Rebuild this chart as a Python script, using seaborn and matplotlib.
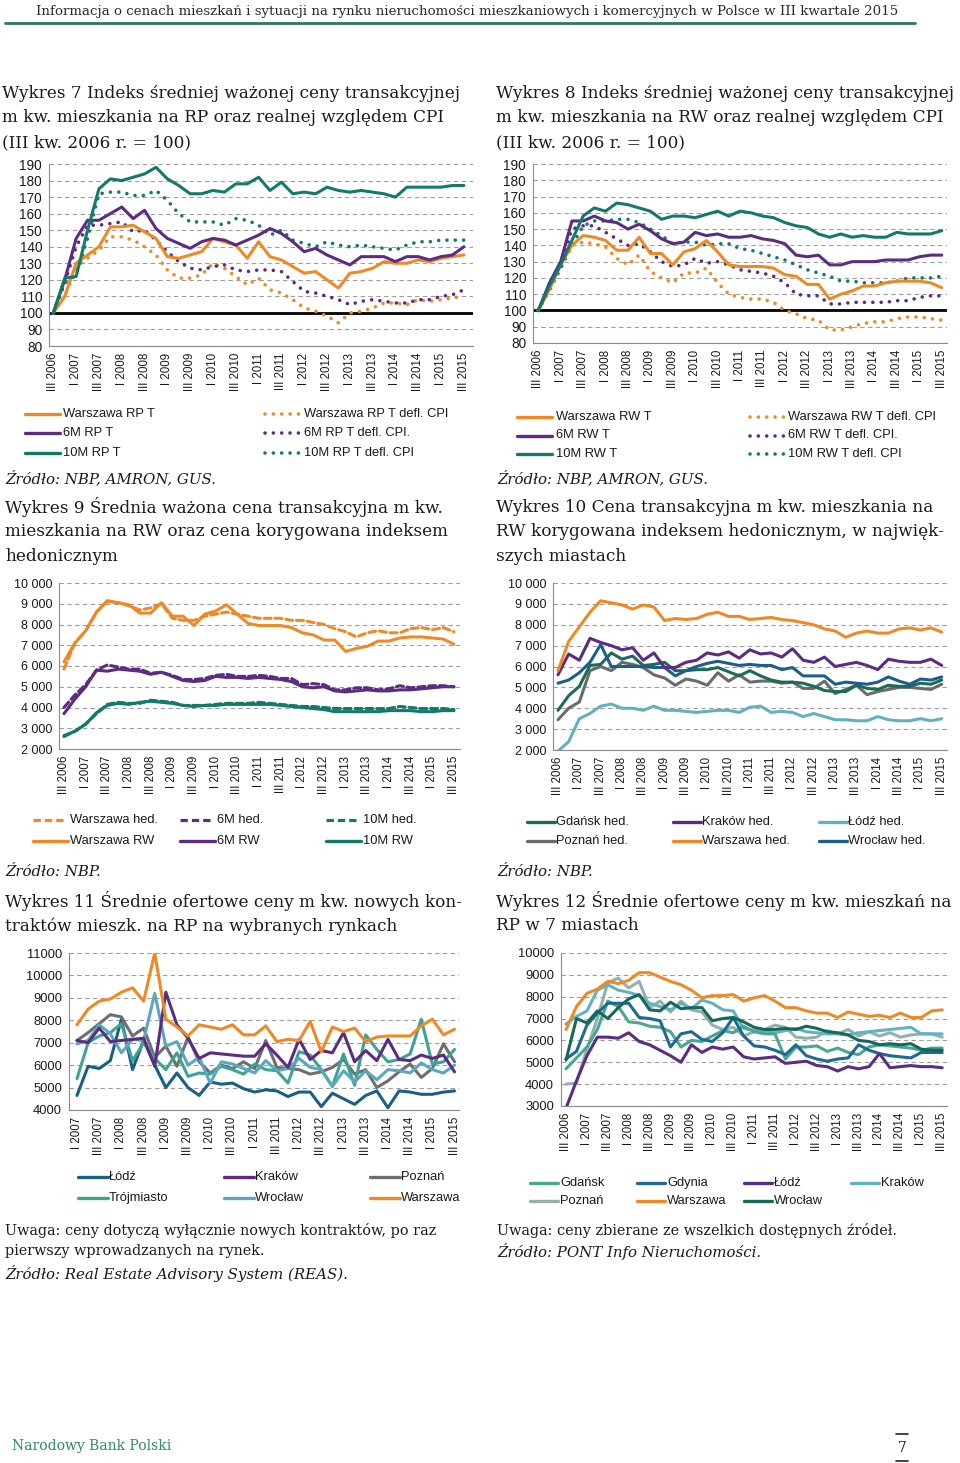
import matplotlib
matplotlib.use("Agg")
import numpy as np
import pandas as pd
import matplotlib.pyplot as plt
from matplotlib.lines import Line2D
import seaborn as sns

# ---------------------------------------------------------------- data
ticks_q06 = ["III 2006", "I 2007", "III 2007", "I 2008", "III 2008", "I 2009", "III 2009",
             "I 2010", "III 2010", "I 2011", "III 2011", "I 2012", "III 2012", "I 2013",
             "III 2013", "I 2014", "III 2014", "I 2015", "III 2015"]
ticks_q07 = ["I 2007", "III 2007", "I 2008", "III 2008", "I 2009", "III 2009", "I 2010",
             "III 2010", "I 2011", "III 2011", "I 2012", "III 2012", "I 2013", "III 2013",
             "I 2014", "III 2014", "I 2015", "III 2015"]

# Wykres 7 (RP, index III 2006 = 100)
c7_warszawa = [100, 110, 130, 135, 140, 152, 152, 153, 149, 145, 134, 133, 135, 137, 145, 143, 141, 133, 143,
               134, 132, 128, 124, 125, 120, 115, 124, 125, 127, 131, 130, 130, 132, 131, 133, 134, 135]
c7_6m = [100, 120, 145, 156, 156, 160, 164, 157, 162, 151, 145, 142, 139, 143, 145, 144, 141, 144, 147,
         151, 148, 143, 137, 139, 135, 132, 129, 134, 134, 134, 131, 134, 134, 132, 134, 135, 140]
c7_10m = [100, 121, 122, 150, 175, 181, 180, 182, 184, 188, 181, 177, 172, 172, 174, 173, 178, 178, 182,
          174, 179, 172, 173, 172, 176, 174, 173, 174, 173, 172, 170, 176, 176, 176, 176, 177, 177]
c7_warszawa_defl = [100, 110, 128, 133, 138, 146, 146, 144, 140, 135, 126, 121, 121, 123, 130, 127, 122, 117, 121,
                    114, 112, 108, 103, 101, 98, 94, 100, 101, 103, 106, 106, 105, 108, 107, 108, 109, 110]
c7_6m_defl = [100, 118, 140, 153, 153, 154, 155, 149, 150, 144, 137, 131, 127, 126, 128, 129, 126, 125, 126,
              126, 125, 119, 113, 112, 110, 108, 105, 107, 108, 107, 106, 106, 108, 108, 110, 111, 114]
c7_10m_defl = [100, 118, 123, 145, 172, 173, 173, 171, 171, 174, 168, 160, 155, 155, 155, 153, 157, 156, 153,
               147, 150, 144, 142, 140, 143, 141, 140, 141, 140, 139, 138, 141, 143, 143, 144, 144, 144]

# Wykres 8 (RW, index III 2006 = 100)
c8_warszawa = [100, 113, 128, 140, 146, 145, 143, 137, 137, 145, 135, 135, 128, 136, 138, 143, 136, 128, 127,
               127, 127, 126, 122, 121, 116, 116, 107, 110, 112, 115, 115, 117, 118, 118, 118, 117, 114]
c8_6m = [100, 117, 130, 155, 155, 158, 155, 154, 150, 153, 149, 144, 141, 142, 148, 146, 147, 145, 145,
         146, 144, 143, 141, 134, 133, 134, 128, 128, 130, 130, 130, 131, 131, 131, 133, 134, 134]
c8_10m = [100, 115, 128, 143, 158, 163, 161, 166, 165, 163, 161, 156, 158, 158, 157, 159, 161, 158, 161,
          160, 158, 157, 154, 152, 151, 147, 145, 147, 145, 146, 145, 145, 148, 147, 147, 147, 149]
c8_warszawa_defl = [100, 112, 126, 140, 142, 141, 139, 132, 128, 134, 124, 120, 117, 123, 123, 126, 117, 110, 108,
                    107, 107, 105, 100, 98, 95, 94, 88, 88, 90, 92, 93, 93, 95, 96, 96, 95, 94]
c8_6m_defl = [100, 115, 127, 150, 152, 152, 148, 144, 140, 141, 136, 130, 127, 128, 132, 129, 130, 128, 125,
              124, 123, 121, 117, 110, 109, 109, 104, 104, 105, 105, 105, 105, 106, 106, 108, 109, 109]
c8_10m_defl = [100, 113, 126, 140, 152, 155, 155, 156, 156, 154, 150, 146, 141, 142, 142, 140, 141, 141, 138,
               137, 135, 133, 131, 128, 125, 123, 121, 118, 118, 117, 117, 117, 118, 120, 120, 120, 121]

# Wykres 9 (zl per m2)
c9_warszawa_hed = [5850, 7100, 7700, 8600, 9100, 9050, 8900, 8700, 8800, 9000, 8300, 8200, 8200, 8400, 8500, 8600,
                   8500, 8400, 8300, 8300, 8300, 8200, 8200, 8100, 8000, 7800, 7650, 7400, 7600, 7700, 7600, 7600,
                   7800, 7850, 7750, 7850, 7650]
c9_6m_hed = [4000, 4600, 5100, 5800, 6050, 5950, 5850, 5850, 5650, 5700, 5550, 5350, 5350, 5400, 5550, 5600,
             5500, 5500, 5550, 5500, 5400, 5400, 5100, 5150, 5100, 4850, 4850, 4950, 4950, 4850, 4900, 5050,
             4950, 5000, 5050, 5050, 5000]
c9_10m_hed = [2600, 2850, 3200, 3700, 4150, 4250, 4200, 4200, 4350, 4300, 4250, 4100, 4100, 4100, 4150, 4200,
              4200, 4200, 4250, 4200, 4150, 4100, 4050, 4050, 4000, 3950, 3950, 3950, 3950, 3950, 3950, 4050,
              4000, 3950, 3950, 3950, 3900]
c9_warszawa = [6200, 7100, 7700, 8600, 9150, 9050, 8950, 8550, 8550, 9050, 8400, 8400, 7950, 8500, 8650, 8950,
               8500, 8050, 7950, 7950, 7950, 7850, 7600, 7500, 7250, 7250, 6700, 6850, 6950, 7200, 7200, 7350,
               7400, 7400, 7350, 7300, 7050]
c9_6m = [3700, 4400, 5000, 5800, 5750, 5850, 5800, 5750, 5600, 5700, 5500, 5300, 5250, 5300, 5500, 5450,
         5450, 5400, 5450, 5400, 5350, 5250, 5000, 4950, 5000, 4800, 4750, 4800, 4850, 4800, 4800, 4850,
         4850, 4900, 4950, 5000, 5000]
c9_10m = [2650, 2850, 3200, 3750, 4100, 4200, 4150, 4250, 4300, 4250, 4200, 4100, 4050, 4100, 4100, 4150,
          4150, 4150, 4150, 4150, 4100, 4050, 4000, 3950, 3900, 3800, 3800, 3800, 3800, 3800, 3850, 3850,
          3850, 3800, 3800, 3850, 3850]

# Wykres 10 (hedonic prices, largest cities)
c10_gdansk = [3900, 4600, 5050, 6050, 6100, 6650, 6350, 6500, 6050, 6100, 6200, 5800, 5800, 5850, 5850, 5950,
              5750, 5550, 5800, 5550, 5350, 5250, 5250, 5200, 5050, 4850, 4800, 4800, 5100, 4950, 4900, 5100,
              5050, 5050, 5200, 5150, 5350]
c10_krakow = [5600, 6600, 6300, 7350, 7150, 7000, 6800, 6900, 6300, 6650, 5950, 5950, 6200, 6300, 6650, 6550,
              6700, 6400, 6800, 6600, 6650, 6450, 6850, 6300, 6200, 6450, 6000, 6100, 6200, 6050, 5850, 6350,
              6250, 6200, 6200, 6350, 6050]
c10_lodz = [1950, 2400, 3500, 3750, 4100, 4200, 4000, 4000, 3900, 4100, 3900, 3900, 3850, 3800, 3850, 3900,
            3900, 3800, 4050, 4100, 3800, 3850, 3800, 3600, 3750, 3600, 3450, 3450, 3400, 3400, 3600, 3450,
            3400, 3400, 3500, 3400, 3500]
c10_poznan = [3450, 4000, 4300, 5800, 6000, 5800, 6200, 6100, 5950, 5600, 5450, 5100, 5400, 5300, 5100, 5700,
              5300, 5600, 5250, 5300, 5300, 5200, 5250, 4950, 4950, 5300, 4700, 4900, 5100, 4650, 4800, 4900,
              5000, 5000, 4950, 4900, 5150]
c10_warszawa = [5800, 7200, 7900, 8600, 9150, 9050, 8950, 8750, 8950, 8850, 8200, 8300, 8250, 8300, 8500, 8600,
                8400, 8400, 8250, 8300, 8350, 8250, 8200, 8100, 8000, 7800, 7700, 7400, 7600, 7700, 7600, 7600,
                7800, 7850, 7750, 7850, 7650]
c10_wroclaw = [5200, 5350, 5700, 6200, 7050, 6000, 6000, 6000, 6000, 5950, 5950, 5550, 5800, 6000, 6150, 6250,
               6150, 6050, 6100, 6050, 6050, 5850, 5950, 5550, 5550, 5550, 5150, 5250, 5200, 5150, 5250, 5500,
               5300, 5150, 5400, 5350, 5500]

# Wykres 11 (I 2007 - III 2015)
c11_lodz = [4650, 5950, 5850, 6200, 8050, 5800, 7100, 6000, 5000, 5650, 5000, 4650, 5250, 5150, 5200, 4950,
            4800, 4900, 4850, 4600, 4800, 4800, 4150, 4750, 4500, 4250, 4650, 4850, 4100, 4850, 4800, 4700,
            4700, 4800, 4850]
c11_krakow = [7100, 7000, 7650, 7050, 7100, 7150, 7200, 5950, 9250, 7800, 7200, 6300, 6550, 6500, 6450, 6400,
              6400, 6950, 6450, 5900, 7150, 6250, 6650, 6550, 7450, 6150, 6650, 6200, 7150, 6250, 6200, 6450,
              6300, 6450, 5700]
c11_poznan = [7100, 7450, 7850, 8250, 8150, 7300, 7650, 6350, 6850, 5950, 7250, 6150, 5650, 6000, 5850, 6150,
              5850, 7100, 5900, 5850, 5800, 5600, 5700, 5900, 6250, 5600, 5800, 5000, 5300, 5700, 6050, 5450,
              5850, 6950, 6150]
c11_trojmiasto = [5400, 7000, 7300, 7450, 7850, 6200, 7000, 6300, 5800, 6550, 5500, 5650, 5600, 5950, 5800, 5600,
                  6050, 5800, 5750, 5200, 6600, 6450, 5800, 5050, 6500, 5100, 7350, 6700, 6150, 6250, 6500, 8050,
                  6050, 6150, 6700]
c11_wroclaw = [6950, 7100, 7800, 7400, 6550, 7150, 7100, 9200, 6850, 7050, 6000, 6350, 5200, 6150, 6050, 5850,
               5650, 6200, 5750, 5850, 6300, 5900, 5800, 5050, 5750, 5250, 5750, 5350, 5800, 5750, 5650, 6100,
               5800, 5650, 6000]
c11_warszawa = [7800, 8500, 8850, 8950, 9250, 9450, 8850, 11000, 8050, 7700, 7300, 7800, 7700, 7600, 7800, 7350,
                7350, 7750, 7050, 7150, 7100, 7950, 6600, 7700, 7500, 7650, 7050, 7250, 7300, 7300, 7300, 7750,
                8050, 7350, 7600]

# Wykres 12 (7 cities, III 2006 - III 2015)
c12_gdansk = [4700, 5200, 5700, 6500, 7800, 7550, 6850, 6800, 6650, 6600, 6400, 5700, 6000, 5950, 6200, 6450,
              6350, 6650, 6400, 6300, 6300, 5150, 5700, 5700, 5750, 5500, 5650, 5450, 5350, 5700, 5800, 5750,
              5700, 5650, 5550, 5650, 5650]
c12_gdynia = [5150, 5500, 6700, 7250, 7700, 7700, 7700, 7050, 7000, 6900, 5700, 6300, 6400, 6050, 5950, 6350,
              7050, 6200, 5750, 5700, 5550, 5350, 5800, 5300, 5150, 5050, 5150, 5200, 5800, 5550, 5400, 5300,
              5250, 5200, 5450, 5450, 5450]
c12_lodz = [2900, 4150, 5300, 6150, 6150, 6100, 6350, 5950, 5800, 5550, 5300, 5000, 5800, 5450, 5700, 5600,
            5700, 5250, 5150, 5200, 5250, 4950, 5000, 5050, 4850, 4800, 4600, 4800, 4700, 4800, 5400, 4750,
            4800, 4850, 4800, 4800, 4750]
c12_krakow = [6750, 7100, 7350, 8300, 8550, 8300, 8200, 8050, 7700, 7550, 7400, 7700, 7450, 7850, 7700, 7400,
              7350, 6550, 6450, 6400, 6350, 6450, 6550, 6400, 6350, 6300, 6300, 6250, 6350, 6400, 6450, 6500,
              6550, 6600, 6300, 6300, 6300]
c12_poznan = [4000, 4050, 5600, 7000, 8650, 8850, 8400, 8700, 7500, 7800, 7300, 7800, 7400, 7300, 6700, 6500,
              6600, 6200, 6400, 6500, 6700, 6600, 6150, 6100, 6150, 6450, 6300, 6500, 6200, 6400, 6200, 6350,
              6150, 6250, 6300, 6300, 6150]
c12_warszawa = [6500, 7550, 8150, 8350, 8700, 8600, 8750, 9100, 9100, 8900, 8700, 8550, 8300, 7950, 8050, 8050,
                8100, 7800, 7950, 8050, 7800, 7500, 7500, 7350, 7250, 7250, 7050, 7300, 7200, 7100, 7150, 7050,
                7250, 7050, 7050, 7350, 7400]
c12_wroclaw = [5100, 7000, 6800, 7350, 7000, 7500, 7900, 8100, 7400, 7350, 7750, 7450, 7500, 7500, 6900, 7000,
               7050, 6850, 6600, 6500, 6500, 6550, 6500, 6650, 6550, 6400, 6350, 6250, 6000, 5950, 5800, 5850,
               5800, 5850, 5600, 5550, 5550]

# ---------------------------------------------------------------- style
ORANGE = "#EE8A26"
PURPLE = "#5C2C82"
TEAL = "#13796A"
GRID = "#9E9E9E"
AXC = "#8A8A8A"
TXT = "#1A1A1A"
SERIF = ["DejaVu Serif"]

sns.set_theme(style="white")
plt.rcParams["font.family"] = ["Liberation Sans", "DejaVu Sans"]

W, H = 960, 1463
fig = plt.figure(figsize=(W / 100, H / 100), dpi=100)
fig.patch.set_facecolor("white")


def fy(y):
    return 1 - y / H


def px_rect(l, t, r, b):
    return [l / W, 1 - b / H, (r - l) / W, (b - t) / H]


def ftext(x, y, s, **kw):
    kw.setdefault("color", TXT)
    kw.setdefault("va", "center")
    kw.setdefault("ha", "left")
    fig.text(x / W, fy(y), s, **kw)


def long_df(series):
    frames = [pd.DataFrame({"q": np.arange(len(v)), "value": v, "series": k}) for k, v in series.items()]
    return pd.concat(frames, ignore_index=True)


DOT = (0.01, 2.3)
DASH = (2.3, 1.25)


def draw_chart(rect, groups, xlim, ylim, ystep, yfmt, xlabels, yfs, xfs=8.3, ref100=False):
    ax = fig.add_axes(px_rect(*rect))
    if ref100:
        ax.axhline(100, color="black", lw=2.0, zorder=1.8)
    for series, palette, dash, lw in groups:
        df = long_df(series)
        order = list(series.keys())
        sns.lineplot(data=df, x="q", y="value", hue="series", style="series",
                     hue_order=order, style_order=order, palette=palette,
                     dashes={k: dash for k in order}, linewidth=lw,
                     dash_capstyle="round", legend=False, errorbar=None, ax=ax)
    n = max(len(v) for g in groups for v in g[0].values())
    ax.set_xlim(*xlim)
    ax.set_ylim(*ylim)
    yt = np.arange(ylim[0], ylim[1] + 1, ystep)
    ax.set_yticks(yt)
    ax.set_yticklabels([yfmt(v) for v in yt], fontsize=yfs, color=TXT)
    ax.set_xticks(np.arange(0, n, 2))
    ax.set_xticklabels(xlabels, rotation=90, fontsize=xfs, color=TXT)
    ax.grid(axis="y", linestyle=(0, (4, 3)), color=GRID, linewidth=0.8)
    ax.grid(axis="x", visible=False)
    ax.set_axisbelow(True)
    for s in ("top", "right"):
        ax.spines[s].set_visible(False)
    for s in ("left", "bottom"):
        ax.spines[s].set_color(AXC)
        ax.spines[s].set_linewidth(0.8)
    ax.tick_params(axis="both", length=3, width=0.8, color=AXC, pad=2)
    ax.set_xlabel("")
    ax.set_ylabel("")
    ax.set_facecolor("none")
    return ax


def leg(x0, x1, xt, y, color, kind, label, fs=9.3):
    if kind == "dot":
        ls, lw, cap = (0, DOT), 2.6, "round"
    elif kind == "dash":
        ls, lw, cap = (0, DASH), 2.3, "butt"
    else:
        ls, lw, cap = "-", 2.4, "butt"
    fig.add_artist(Line2D([x0 / W, x1 / W], [fy(y), fy(y)], color=color, lw=lw,
                          linestyle=ls, dash_capstyle=cap, transform=fig.transFigure))
    ftext(xt, y, label, fontsize=fs)


def plain(v):
    return f"{int(v)}"


def spaced(v):
    return f"{int(v):,}".replace(",", " ")


# ---------------------------------------------------------------- header
ftext(467, 11, "Informacja o cenach mieszkań i sytuacji na rynku nieruchomości mieszkaniowych "
      "i komercyjnych w Polsce w III kwartale 2015", ha="center", family=SERIF, fontsize=9.6, color="#2b2b2b")
fig.add_artist(Line2D([5 / W, 915 / W], [fy(23), fy(23)], color="#2B7A5E", lw=2.0, transform=fig.transFigure))

TFS = 12.2
# ---------------------------------------------------------------- Wykres 7
ftext(2, 93, "Wykres 7 Indeks średniej ważonej ceny transakcyjnej", family=SERIF, fontsize=TFS)
ftext(2, 118, "m kw. mieszkania na RP oraz realnej względem CPI", family=SERIF, fontsize=TFS)
ftext(2, 143, "(III kw. 2006 r. = 100)", family=SERIF, fontsize=TFS)
draw_chart((49, 164, 473, 346),
           [({"Warszawa RP T defl. CPI": c7_warszawa_defl, "6M RP T defl. CPI.": c7_6m_defl,
              "10M RP T defl. CPI": c7_10m_defl}, [ORANGE, PURPLE, TEAL], DOT, 2.6),
            ({"Warszawa RP T": c7_warszawa, "6M RP T": c7_6m, "10M RP T": c7_10m},
             [ORANGE, PURPLE, TEAL], "", 2.2)],
           (-0.38, 36.8), (80, 190), 10, plain, ticks_q06, yfs=9.8, ref100=True)
for i, (lab, col) in enumerate([("Warszawa RP T", ORANGE), ("6M RP T", PURPLE), ("10M RP T", TEAL)]):
    leg(25, 60, 63, 414 + 19.5 * i, col, "solid", lab)
for i, (lab, col) in enumerate([("Warszawa RP T defl. CPI", ORANGE), ("6M RP T defl. CPI.", PURPLE),
                                ("10M RP T defl. CPI", TEAL)]):
    leg(265, 299, 304, 414 + 19.5 * i, col, "dot", lab)
ftext(5, 478, "Źródło: NBP, AMRON, GUS.", family=SERIF, style="italic", fontsize=10.8)

# ---------------------------------------------------------------- Wykres 8
ftext(496, 93, "Wykres 8 Indeks średniej ważonej ceny transakcyjnej", family=SERIF, fontsize=TFS)
ftext(496, 118, "m kw. mieszkania na RW oraz realnej względem CPI", family=SERIF, fontsize=TFS)
ftext(496, 143, "(III kw. 2006 r. = 100)", family=SERIF, fontsize=TFS)
draw_chart((533, 164, 947, 343),
           [({"Warszawa RW T defl. CPI": c8_warszawa_defl, "6M RW T defl. CPI.": c8_6m_defl,
              "10M RW T defl. CPI": c8_10m_defl}, [ORANGE, PURPLE, TEAL], DOT, 2.6),
            ({"Warszawa RW T": c8_warszawa, "6M RW T": c8_6m, "10M RW T": c8_10m},
             [ORANGE, PURPLE, TEAL], "", 2.2)],
           (-0.47, 36.47), (80, 190), 10, plain, ticks_q06, yfs=9.8, ref100=True)
for i, (lab, col) in enumerate([("Warszawa RW T", ORANGE), ("6M RW T", PURPLE), ("10M RW T", TEAL)]):
    leg(517, 552, 556, 417 + 18.5 * i, col, "solid", lab)
for i, (lab, col) in enumerate([("Warszawa RW T defl. CPI", ORANGE), ("6M RW T defl. CPI.", PURPLE),
                                ("10M RW T defl. CPI", TEAL)]):
    leg(750, 784, 788, 417 + 18.5 * i, col, "dot", lab)
ftext(497, 478, "Źródło: NBP, AMRON, GUS.", family=SERIF, style="italic", fontsize=10.8)

# ---------------------------------------------------------------- Wykres 9
ftext(5, 507, "Wykres 9 Średnia ważona cena transakcyjna m kw.", family=SERIF, fontsize=TFS)
ftext(5, 531, "mieszkania na RW oraz cena korygowana indeksem", family=SERIF, fontsize=TFS)
ftext(5, 556, "hedonicznym", family=SERIF, fontsize=TFS)
draw_chart((59, 583, 460, 749),
           [({"Warszawa hed.": c9_warszawa_hed, "6M hed.": c9_6m_hed, "10M hed.": c9_10m_hed},
             [ORANGE, PURPLE, TEAL], DASH, 2.2),
            ({"Warszawa RW": c9_warszawa, "6M RW": c9_6m, "10M RW": c9_10m},
             [ORANGE, PURPLE, TEAL], "", 2.2)],
           (-0.46, 36.56), (2000, 10000), 1000, spaced, ticks_q06, yfs=9.0)
for x0, lab, col in [(33, "Warszawa hed.", ORANGE), (180, "6M hed.", PURPLE), (326, "10M hed.", TEAL)]:
    leg(x0, x0 + 32, x0 + 37, 820, col, "dash", lab)
for x0, lab, col in [(33, "Warszawa RW", ORANGE), (180, "6M RW", PURPLE), (326, "10M RW", TEAL)]:
    leg(x0, x0 + 35, x0 + 37, 841, col, "solid", lab)
ftext(5, 872, "Źródło: NBP.", family=SERIF, style="italic", fontsize=10.8)

# ---------------------------------------------------------------- Wykres 10
ftext(496, 507, "Wykres 10 Cena transakcyjna m kw. mieszkania na", family=SERIF, fontsize=TFS)
ftext(496, 531, "RW korygowana indeksem hedonicznym, w najwięk-", family=SERIF, fontsize=TFS)
ftext(496, 556, "szych miastach", family=SERIF, fontsize=TFS)
c10_cols = {"Gdańsk hed.": "#1B6B5A", "Kraków hed.": PURPLE, "Łódź hed.": "#63B1C0",
            "Poznań hed.": "#6B6B6B", "Warszawa hed.": ORANGE, "Wrocław hed.": "#1D5E8A"}
draw_chart((553, 583, 947, 750),
           [({"Łódź hed.": c10_lodz, "Poznań hed.": c10_poznan, "Gdańsk hed.": c10_gdansk,
              "Wrocław hed.": c10_wroclaw, "Kraków hed.": c10_krakow, "Warszawa hed.": c10_warszawa},
             c10_cols, "", 2.2)],
           (-0.47, 36.5), (2000, 10000), 1000, spaced, ticks_q06, yfs=9.0)
for j, lab in enumerate(["Gdańsk hed.", "Kraków hed.", "Łódź hed."]):
    leg(527 + 146 * j, 555 + 146 * j, 556 + 146 * j, 822, c10_cols[lab], "solid", lab)
for j, lab in enumerate(["Poznań hed.", "Warszawa hed.", "Wrocław hed."]):
    leg(527 + 146 * j, 555 + 146 * j, 556 + 146 * j, 841, c10_cols[lab], "solid", lab)
ftext(497, 872, "Źródło: NBP.", family=SERIF, style="italic", fontsize=10.8)

# ---------------------------------------------------------------- Wykres 11
ftext(5, 901, "Wykres 11 Średnie ofertowe ceny m kw. nowych kon-", family=SERIF, fontsize=TFS)
ftext(5, 926, "traktów mieszk. na RP na wybranych rynkach", family=SERIF, fontsize=TFS)
c11_cols = {"Łódź": "#1B5F86", "Kraków": PURPLE, "Poznań": "#6E6E6E",
            "Trójmiasto": "#3DA394", "Wrocław": "#5AA8BE", "Warszawa": ORANGE}
draw_chart((69, 953, 459, 1110),
           [({"Łódź": c11_lodz, "Poznań": c11_poznan, "Trójmiasto": c11_trojmiasto,
              "Wrocław": c11_wroclaw, "Kraków": c11_krakow, "Warszawa": c11_warszawa},
             c11_cols, "", 2.2)],
           (-0.72, 34.4), (4000, 11000), 1000, plain, ticks_q07, yfs=9.3)
for j, lab in enumerate(["Łódź", "Kraków", "Poznań"]):
    leg(78 + 146 * j, 108 + 146 * j, 109 + 146 * j, 1177, c11_cols[lab], "solid", lab)
for j, lab in enumerate(["Trójmiasto", "Wrocław", "Warszawa"]):
    leg(78 + 146 * j, 108 + 146 * j, 109 + 146 * j, 1198, c11_cols[lab], "solid", lab)
ftext(5, 1230, "Uwaga: ceny dotyczą wyłącznie nowych kontraktów, po raz", family=SERIF, fontsize=10.4)
ftext(5, 1251, "pierwszy wprowadzanych na rynek.", family=SERIF, fontsize=10.4)
ftext(5, 1274, "Źródło: Real Estate Advisory System (REAS).", family=SERIF, style="italic", fontsize=10.8)

# ---------------------------------------------------------------- Wykres 12
ftext(496, 901, "Wykres 12 Średnie ofertowe ceny m kw. mieszkań na", family=SERIF, fontsize=TFS)
ftext(496, 926, "RP w 7 miastach", family=SERIF, fontsize=TFS)
c12_cols = {"Gdańsk": "#47A88F", "Gdynia": "#1E6A93", "Łódź": PURPLE, "Kraków": "#62B2C6",
            "Poznań": "#93B1A9", "Warszawa": ORANGE, "Wrocław": "#16685A"}
draw_chart((561, 953, 947, 1106),
           [({"Poznań": c12_poznan, "Kraków": c12_krakow, "Gdańsk": c12_gdansk, "Gdynia": c12_gdynia,
              "Wrocław": c12_wroclaw, "Łódź": c12_lodz, "Warszawa": c12_warszawa},
             c12_cols, "", 2.2)],
           (-0.48, 36.46), (3000, 10000), 1000, plain, ticks_q06, yfs=9.3)
for j, lab in enumerate(["Gdańsk", "Gdynia", "Łódź", "Kraków"]):
    leg(530 + 107 * j, 558 + 107 * j, 560 + 107 * j, 1183, c12_cols[lab], "solid", lab)
for j, lab in enumerate(["Poznań", "Warszawa", "Wrocław"]):
    leg(530 + 107 * j, 558 + 107 * j, 560 + 107 * j, 1201, c12_cols[lab], "solid", lab)
ftext(497, 1230, "Uwaga: ceny zbierane ze wszelkich dostępnych źródeł.", family=SERIF, fontsize=10.4)
ftext(497, 1252, "Źródło: PONT Info Nieruchomości.", family=SERIF, style="italic", fontsize=10.8)

# ---------------------------------------------------------------- footer
ftext(12, 1446, "Narodowy Bank Polski", family=SERIF, fontsize=10.0, color="#2E8A6C")
ftext(902, 1448, "7", family=SERIF, fontsize=10.0, ha="center")
for yy in (1434, 1461):
    fig.add_artist(Line2D([896 / W, 908 / W], [fy(yy), fy(yy)], color="#222222", lw=1.2,
                          transform=fig.transFigure))

fig.savefig("out.png", dpi=100, facecolor="white")
